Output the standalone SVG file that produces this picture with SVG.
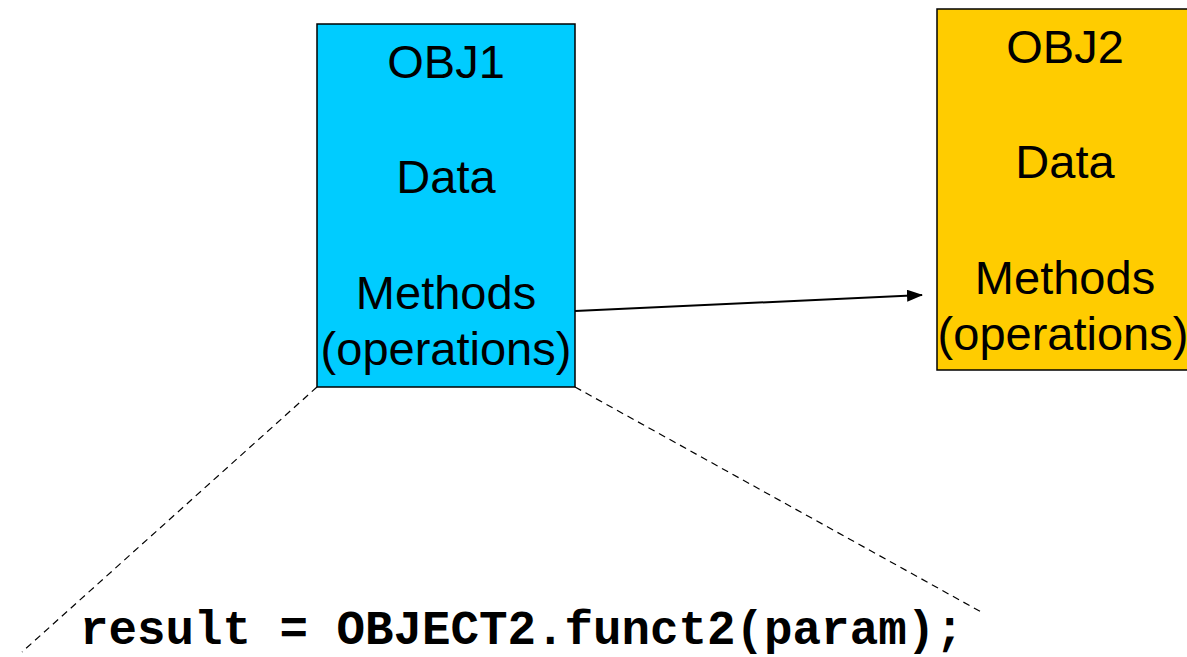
<svg xmlns="http://www.w3.org/2000/svg" width="1187" height="657" viewBox="0 0 1187 657">
<style>
.box{stroke:#000;stroke-width:1.5}
.lbl{font-family:"Liberation Sans",Arial,sans-serif;font-size:47px;fill:#000;text-anchor:middle}
.dash{stroke:#000;stroke-width:1.2;stroke-dasharray:7 5;fill:none}
.code{font-family:"Liberation Mono","Courier New",monospace;font-weight:bold;font-size:47.5px;fill:#000}
</style>
<defs>
<marker id="arr" markerWidth="16" markerHeight="12" refX="15" refY="6" orient="auto" markerUnits="userSpaceOnUse">
<path d="M0,0 L16,6 L0,12 z" fill="#000"/>
</marker>
</defs>
<rect width="1187" height="657" fill="#fff"/>
<g id="connectors">
<line x1="575" y1="311" x2="922" y2="295" stroke="#000" stroke-width="2" marker-end="url(#arr)"/>
<line class="dash" x1="317" y1="387" x2="22" y2="652"/>
<line class="dash" x1="575" y1="387" x2="983" y2="613"/>
</g>
<g id="obj1">
<rect class="box" x="317" y="24" width="258" height="363" fill="#00CCFF"/>
<text class="lbl" x="446" y="78">OBJ1</text>
<text class="lbl" x="446" y="193">Data</text>
<text class="lbl" x="446" y="309">Methods</text>
<text class="lbl" x="446" y="365">(operations)</text>
</g>
<g id="obj2">
<rect class="box" x="937" y="9" width="260" height="361" fill="#FFCC00"/>
<text class="lbl" x="1065" y="63">OBJ2</text>
<text class="lbl" x="1065" y="178">Data</text>
<text class="lbl" x="1065" y="294">Methods</text>
<text class="lbl" x="1063" y="350">(operations)</text>
</g>
<g id="code">
<text class="code" x="80" y="644">result = OBJECT2.funct2(param);</text>
</g>
</svg>
